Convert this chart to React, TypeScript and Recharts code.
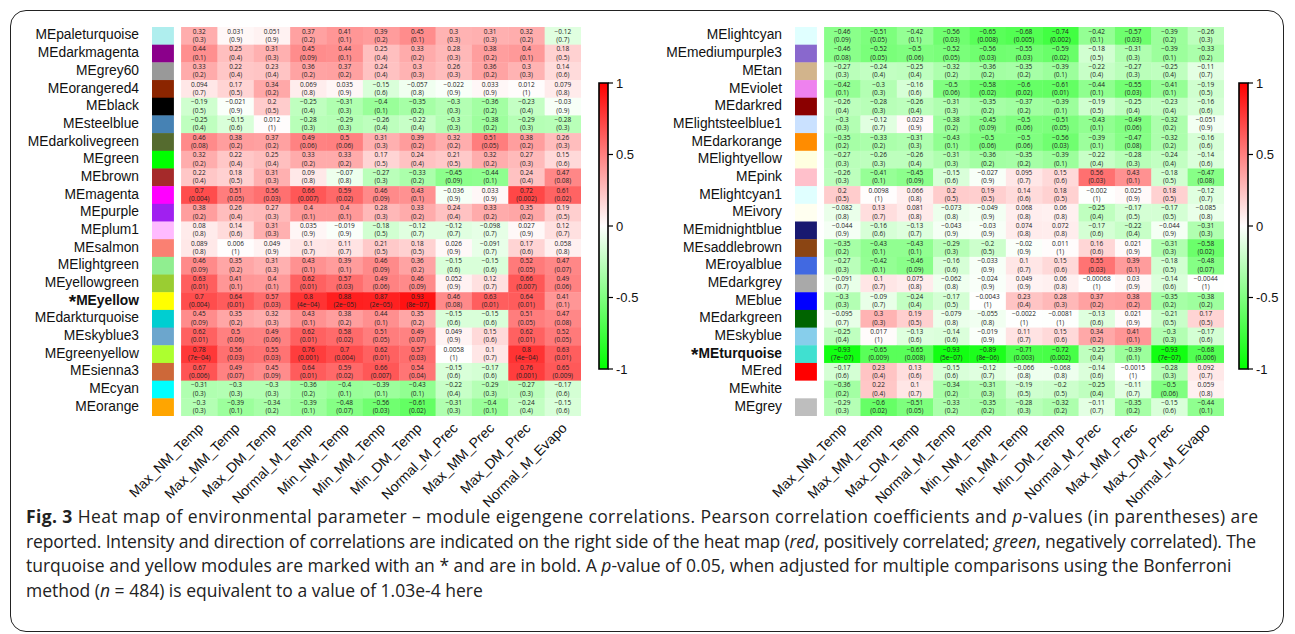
import React from 'react';
import { ScatterChart, Scatter, XAxis, YAxis, BarChart, Bar } from 'recharts';

const COLUMNS = ['Max_NM_Temp', 'Max_MM_Temp', 'Max_DM_Temp', 'Normal_M_Temp', 'Min_NM_Temp', 'Min_MM_Temp', 'Min_DM_Temp', 'Normal_M_Prec', 'Max_MM_Prec', 'Max_DM_Prec', 'Normal_M_Evapo'];

const LEFT_MODULES = ['MEpaleturquoise', 'MEdarkmagenta', 'MEgrey60', 'MEorangered4', 'MEblack', 'MEsteelblue', 'MEdarkolivegreen', 'MEgreen', 'MEbrown', 'MEmagenta', 'MEpurple', 'MEplum1', 'MEsalmon', 'MElightgreen', 'MEyellowgreen', 'MEyellow', 'MEdarkturquoise', 'MEskyblue3', 'MEgreenyellow', 'MEsienna3', 'MEcyan', 'MEorange'];
const LEFT_SWATCHES = ['#AFEEEE', '#8B008B', '#999999', '#8B2500', '#000000', '#4682B4', '#556B2F', '#00FF00', '#A52A2A', '#FF00FF', '#A020F0', '#FFBBFF', '#FA8072', '#90EE90', '#9ACD32', '#FFFF00', '#00CED1', '#6CA6CD', '#ADFF2F', '#CD6839', '#00FFFF', '#FFA500'];
const LEFT_R = [
  [0.32, 0.031, 0.051, 0.37, 0.41, 0.39, 0.45, 0.3, 0.31, 0.32, -0.12],
  [0.44, 0.25, 0.31, 0.45, 0.44, 0.25, 0.33, 0.28, 0.38, 0.4, 0.18],
  [0.33, 0.22, 0.23, 0.36, 0.37, 0.24, 0.3, 0.26, 0.36, 0.3, 0.14],
  [0.094, 0.17, 0.34, 0.069, 0.035, -0.15, -0.057, -0.022, 0.033, 0.012, 0.079],
  [-0.19, -0.021, 0.2, -0.25, -0.31, -0.4, -0.35, -0.3, -0.36, -0.23, -0.03],
  [-0.25, -0.15, 0.012, -0.28, -0.29, -0.26, -0.22, -0.3, -0.38, -0.29, -0.28],
  [0.46, 0.38, 0.37, 0.49, 0.5, 0.31, 0.39, 0.32, 0.51, 0.38, 0.26],
  [0.32, 0.22, 0.25, 0.33, 0.33, 0.17, 0.24, 0.21, 0.32, 0.27, 0.15],
  [0.22, 0.18, 0.31, 0.09, -0.07, -0.27, -0.33, -0.45, -0.44, 0.24, 0.47],
  [0.7, 0.51, 0.56, 0.66, 0.59, 0.46, 0.43, -0.036, 0.033, 0.72, 0.61],
  [0.38, 0.26, 0.27, 0.4, 0.4, 0.28, 0.33, 0.24, 0.33, 0.35, 0.19],
  [0.08, 0.14, 0.31, 0.035, -0.019, -0.18, -0.12, -0.12, -0.098, 0.027, 0.12],
  [0.089, 0.006, 0.049, 0.1, 0.11, 0.21, 0.18, 0.026, -0.091, 0.17, 0.058],
  [0.46, 0.35, 0.31, 0.43, 0.39, 0.46, 0.36, -0.15, -0.15, 0.52, 0.47],
  [0.63, 0.41, 0.4, 0.62, 0.57, 0.49, 0.46, 0.052, 0.12, 0.66, 0.49],
  [0.7, 0.64, 0.57, 0.8, 0.88, 0.87, 0.93, 0.46, 0.63, 0.64, 0.41],
  [0.45, 0.35, 0.32, 0.43, 0.38, 0.44, 0.35, -0.15, -0.15, 0.51, 0.47],
  [0.62, 0.5, 0.49, 0.62, 0.58, 0.51, 0.49, 0.049, 0.15, 0.62, 0.52],
  [0.78, 0.56, 0.55, 0.76, 0.7, 0.62, 0.57, 0.0058, 0.1, 0.8, 0.63],
  [0.67, 0.49, 0.45, 0.64, 0.59, 0.66, 0.54, -0.15, -0.17, 0.76, 0.65],
  [-0.31, -0.3, -0.3, -0.36, -0.4, -0.39, -0.43, -0.22, -0.29, -0.27, -0.17],
  [-0.3, -0.39, -0.34, -0.39, -0.48, -0.56, -0.61, -0.31, -0.4, -0.24, -0.15],
];
const LEFT_P = [
  ['0.3', '0.9', '0.9', '0.2', '0.1', '0.2', '0.1', '0.3', '0.3', '0.2', '0.7'],
  ['0.1', '0.4', '0.3', '0.09', '0.1', '0.4', '0.2', '0.3', '0.2', '0.1', '0.5'],
  ['0.2', '0.4', '0.4', '0.2', '0.2', '0.4', '0.3', '0.3', '0.2', '0.3', '0.6'],
  ['0.7', '0.5', '0.2', '0.8', '0.9', '0.6', '0.8', '0.9', '0.9', '1', '0.8'],
  ['0.5', '0.9', '0.5', '0.4', '0.3', '0.1', '0.2', '0.3', '0.2', '0.4', '0.9'],
  ['0.4', '0.6', '1', '0.3', '0.3', '0.4', '0.4', '0.3', '0.2', '0.3', '0.3'],
  ['0.08', '0.2', '0.2', '0.06', '0.06', '0.3', '0.2', '0.2', '0.05', '0.2', '0.3'],
  ['0.2', '0.4', '0.4', '0.2', '0.2', '0.5', '0.4', '0.5', '0.2', '0.3', '0.6'],
  ['0.4', '0.5', '0.3', '0.8', '0.8', '0.3', '0.2', '0.09', '0.1', '0.4', '0.08'],
  ['0.004', '0.05', '0.03', '0.007', '0.02', '0.09', '0.1', '0.9', '0.9', '0.002', '0.02'],
  ['0.2', '0.4', '0.3', '0.1', '0.1', '0.3', '0.2', '0.4', '0.2', '0.2', '0.5'],
  ['0.8', '0.6', '0.3', '0.9', '0.9', '0.5', '0.7', '0.7', '0.7', '0.9', '0.7'],
  ['0.8', '1', '0.9', '0.7', '0.7', '0.5', '0.5', '0.9', '0.7', '0.6', '0.8'],
  ['0.09', '0.2', '0.3', '0.1', '0.1', '0.09', '0.2', '0.6', '0.6', '0.05', '0.07'],
  ['0.01', '0.1', '0.1', '0.01', '0.03', '0.06', '0.09', '0.9', '0.7', '0.007', '0.06'],
  ['0.004', '0.01', '0.03', '4e-04', '2e-05', '2e-05', '8e-07', '0.08', '0.01', '0.01', '0.1'],
  ['0.09', '0.2', '0.3', '0.1', '0.2', '0.1', '0.2', '0.6', '0.6', '0.05', '0.08'],
  ['0.01', '0.06', '0.06', '0.01', '0.02', '0.05', '0.07', '0.9', '0.6', '0.01', '0.05'],
  ['7e-04', '0.03', '0.03', '0.001', '0.004', '0.01', '0.03', '1', '0.7', '4e-04', '0.01'],
  ['0.006', '0.07', '0.09', '0.01', '0.02', '0.007', '0.04', '0.6', '0.6', '0.001', '0.009'],
  ['0.3', '0.3', '0.3', '0.2', '0.1', '0.1', '0.1', '0.4', '0.3', '0.3', '0.6'],
  ['0.3', '0.1', '0.2', '0.1', '0.07', '0.03', '0.02', '0.3', '0.1', '0.4', '0.6'],
];

const RIGHT_MODULES = ['MElightcyan', 'MEmediumpurple3', 'MEtan', 'MEviolet', 'MEdarkred', 'MElightsteelblue1', 'MEdarkorange', 'MElightyellow', 'MEpink', 'MElightcyan1', 'MEivory', 'MEmidnightblue', 'MEsaddlebrown', 'MEroyalblue', 'MEdarkgrey', 'MEblue', 'MEdarkgreen', 'MEskyblue', 'MEturquoise', 'MEred', 'MEwhite', 'MEgrey'];
const RIGHT_SWATCHES = ['#E0FFFF', '#8968CD', '#D2B48C', '#EE82EE', '#8B0000', '#CAE1FF', '#FF8C00', '#FFFFE0', '#FFC0CB', '#E0FFFF', '#FFFFF0', '#191970', '#8B4513', '#4169E1', '#A9A9A9', '#0000FF', '#006400', '#87CEEB', '#40E0D0', '#FF0000', '#FFFFFF', '#BEBEBE'];
const RIGHT_R = [
  [-0.46, -0.51, -0.42, -0.56, -0.65, -0.68, -0.74, -0.42, -0.57, -0.39, -0.26],
  [-0.46, -0.52, -0.5, -0.52, -0.56, -0.55, -0.59, -0.18, -0.31, -0.39, -0.33],
  [-0.27, -0.24, -0.25, -0.32, -0.36, -0.35, -0.39, -0.22, -0.27, -0.25, -0.11],
  [-0.42, -0.3, -0.16, -0.5, -0.58, -0.6, -0.61, -0.44, -0.55, -0.41, -0.19],
  [-0.26, -0.28, -0.26, -0.31, -0.35, -0.37, -0.39, -0.19, -0.25, -0.23, -0.16],
  [-0.3, -0.12, 0.023, -0.38, -0.45, -0.5, -0.51, -0.43, -0.49, -0.32, -0.051],
  [-0.35, -0.33, -0.31, -0.43, -0.5, -0.5, -0.56, -0.39, -0.47, -0.32, -0.16],
  [-0.27, -0.26, -0.26, -0.31, -0.36, -0.35, -0.39, -0.22, -0.28, -0.24, -0.14],
  [-0.26, -0.41, -0.45, -0.15, -0.027, 0.095, 0.15, 0.56, 0.43, -0.18, -0.47],
  [0.2, 0.0098, 0.066, 0.2, 0.19, 0.14, 0.18, -0.002, 0.025, 0.18, -0.12],
  [-0.082, 0.13, 0.081, -0.073, -0.049, 0.068, 0.06, -0.25, -0.17, -0.17, -0.085],
  [-0.044, -0.16, -0.13, -0.043, -0.03, 0.074, 0.072, -0.17, -0.22, -0.044, -0.31],
  [-0.35, -0.43, -0.43, -0.29, -0.2, -0.02, 0.011, 0.16, 0.021, -0.31, -0.58],
  [-0.27, -0.42, -0.46, -0.16, -0.033, 0.1, 0.15, 0.55, 0.39, -0.18, -0.48],
  [-0.091, 0.1, 0.075, -0.062, -0.024, 0.049, 0.06, -0.00068, 0.03, -0.14, -0.0044],
  [-0.3, -0.09, -0.24, -0.17, -0.0043, 0.23, 0.28, 0.37, 0.38, -0.35, -0.38],
  [-0.095, 0.3, 0.19, -0.079, -0.055, -0.0022, -0.0081, -0.13, 0.021, -0.21, 0.17],
  [-0.25, 0.017, -0.13, -0.14, -0.019, 0.11, 0.15, 0.34, 0.41, -0.3, -0.17],
  [-0.93, -0.65, -0.65, -0.93, -0.89, -0.71, -0.72, -0.25, -0.39, -0.93, -0.68],
  [-0.17, 0.23, 0.13, -0.15, -0.12, -0.066, -0.068, -0.14, -0.0015, -0.28, 0.092],
  [-0.36, 0.22, 0.1, -0.34, -0.31, -0.19, -0.2, -0.25, -0.11, -0.5, 0.059],
  [-0.29, -0.6, -0.51, -0.33, -0.35, -0.28, -0.32, -0.11, -0.35, -0.15, -0.44],
];
const RIGHT_P = [
  ['0.09', '0.05', '0.1', '0.03', '0.008', '0.005', '0.002', '0.1', '0.03', '0.2', '0.3'],
  ['0.08', '0.05', '0.06', '0.05', '0.03', '0.03', '0.02', '0.5', '0.3', '0.1', '0.2'],
  ['0.3', '0.4', '0.4', '0.2', '0.2', '0.2', '0.1', '0.4', '0.3', '0.4', '0.7'],
  ['0.1', '0.3', '0.6', '0.06', '0.02', '0.02', '0.01', '0.1', '0.03', '0.1', '0.5'],
  ['0.4', '0.3', '0.4', '0.3', '0.2', '0.2', '0.1', '0.5', '0.4', '0.4', '0.6'],
  ['0.3', '0.7', '0.9', '0.2', '0.09', '0.06', '0.05', '0.1', '0.06', '0.2', '0.9'],
  ['0.2', '0.2', '0.3', '0.1', '0.06', '0.06', '0.03', '0.1', '0.08', '0.2', '0.6'],
  ['0.3', '0.3', '0.4', '0.3', '0.2', '0.2', '0.1', '0.4', '0.3', '0.4', '0.6'],
  ['0.3', '0.1', '0.09', '0.6', '0.9', '0.7', '0.6', '0.03', '0.1', '0.5', '0.08'],
  ['0.5', '1', '0.8', '0.5', '0.5', '0.6', '0.5', '1', '0.9', '0.5', '0.7'],
  ['0.8', '0.7', '0.8', '0.8', '0.9', '0.8', '0.8', '0.4', '0.5', '0.5', '0.8'],
  ['0.9', '0.6', '0.7', '0.9', '0.9', '0.8', '0.8', '0.6', '0.4', '0.9', '0.3'],
  ['0.2', '0.1', '0.1', '0.3', '0.5', '0.9', '1', '0.6', '0.9', '0.3', '0.02'],
  ['0.3', '0.1', '0.09', '0.6', '0.9', '0.7', '0.6', '0.03', '0.1', '0.5', '0.07'],
  ['0.7', '0.7', '0.8', '0.8', '0.9', '0.9', '0.8', '1', '0.9', '0.6', '1'],
  ['0.3', '0.7', '0.4', '0.5', '1', '0.4', '0.3', '0.2', '0.2', '0.2', '0.2'],
  ['0.7', '0.3', '0.5', '0.8', '0.8', '1', '1', '0.6', '0.9', '0.5', '0.5'],
  ['0.4', '1', '0.6', '0.6', '0.9', '0.7', '0.6', '0.2', '0.1', '0.3', '0.6'],
  ['7e-07', '0.009', '0.008', '5e-07', '8e-06', '0.003', '0.002', '0.4', '0.1', '7e-07', '0.006'],
  ['0.6', '0.4', '0.6', '0.6', '0.7', '0.8', '0.8', '0.6', '1', '0.3', '0.7'],
  ['0.2', '0.4', '0.7', '0.2', '0.3', '0.5', '0.5', '0.4', '0.7', '0.06', '0.8'],
  ['0.3', '0.02', '0.05', '0.2', '0.2', '0.3', '0.2', '0.7', '0.2', '0.6', '0.1'],
];

const HIGHLIGHTED = ['MEyellow', 'MEturquoise'];
const COLORBAR_TICKS = [-1, -0.5, 0, 0.5, 1];

// layout
const CHART_W = 640;
const CHART_H = 520;
const MARGIN = { top: 27, right: 59, bottom: 14, left: 12 };
const Y_AXIS_W = 140;
const X_AXIS_H = 90;
const X_DOMAIN: [number, number] = [-0.8, 11];
const PLOT_W = CHART_W - MARGIN.left - MARGIN.right - Y_AXIS_W;
const PLOT_H = CHART_H - MARGIN.top - MARGIN.bottom - X_AXIS_H;
const CELL_W = PLOT_W / (X_DOMAIN[1] - X_DOMAIN[0]);
const CELL_H = PLOT_H / 22;
const SWATCH_W = 22;
const LABEL_FONT = '"Liberation Sans", Arial, sans-serif';
const CELL_FONT = '"Open Sans", "DejaVu Sans", sans-serif';
const CAPTION_FONT = '"Open Sans", sans-serif';

const cellColor = (v: number) => {
  if (v >= 0) {
    const c = Math.round(255 * (1 - v));
    return `rgb(255,${c},${c})`;
  }
  const c = Math.round(255 * (1 + v));
  return `rgb(${c},255,${c})`;
};
const fmt = (s: string | number) => String(s).replace('-', '\u2212');

const HeatCell = (props: any) => {
  const { cx, cy, payload } = props;
  if (cx == null || cy == null) return null;
  return (
    <g>
      <rect x={cx - CELL_W / 2} y={cy - CELL_H / 2} width={CELL_W + 0.4} height={CELL_H + 0.4} fill={cellColor(payload.v)} />
      <text x={cx} y={cy - 4} textAnchor="middle" dominantBaseline="middle" fontSize={6.5} fontFamily={CELL_FONT} fill="#222">{fmt(payload.v)}</text>
      <text x={cx} y={cy + 4.3} textAnchor="middle" dominantBaseline="middle" fontSize={6.5} fontFamily={CELL_FONT} fill="#222">({fmt(payload.p)})</text>
    </g>
  );
};

const SwatchCell = (props: any) => {
  const { cx, cy, payload } = props;
  if (cx == null || cy == null) return null;
  return <rect x={cx - SWATCH_W / 2} y={cy - CELL_H / 2} width={SWATCH_W} height={CELL_H + 0.4} fill={payload.color} />;
};

const makeYTick = (modules: string[]) => (props: any) => {
  const { x, y, payload } = props;
  const name = modules[Math.floor(payload.value)];
  const bold = HIGHLIGHTED.includes(name);
  return (
    <text x={x} y={y} textAnchor="end" dominantBaseline="middle" fontFamily={LABEL_FONT} fontSize={13.8} fill="#111">
      {bold ? <tspan fontWeight="bold" fontSize={19} dy={2}>*</tspan> : null}
      {bold ? <tspan fontWeight="bold" dy={-2}>{name}</tspan> : name}
    </text>
  );
};

const XTick = (props: any) => {
  const { x, y, payload } = props;
  const label = COLUMNS[Math.floor(payload.value)];
  const ax = x + 5;
  const ay = y + 13;
  return (
    <text x={ax} y={ay} textAnchor="end" fontFamily={LABEL_FONT} fontSize={14} fill="#111" transform={`rotate(-45, ${ax}, ${ay})`}>
      {label}
    </text>
  );
};

const Panel = ({ modules, swatches, r, p, left }: { modules: string[]; swatches: string[]; r: number[][]; p: string[][]; left: number }) => {
  const cells = r.flatMap((row, ri) => row.map((v, ci) => ({ x: ci + 0.5, y: ri + 0.5, v, p: p[ri][ci] })));
  const swatchData = modules.map((m, ri) => ({ x: -0.5, y: ri + 0.5, color: swatches[ri] }));
  const xTicks = COLUMNS.map((_, i) => i + 0.5);
  const yTicks = modules.map((_, i) => i + 0.5);
  return (
    <div style={{ position: 'absolute', left, top: 0 }}>
      <ScatterChart width={CHART_W} height={CHART_H} margin={MARGIN}>
        <XAxis type="number" dataKey="x" domain={X_DOMAIN} allowDataOverflow ticks={xTicks} interval={0} height={X_AXIS_H} axisLine={false} tickLine={false} tickSize={0} tickMargin={0} tick={<XTick />} />
        <YAxis type="number" dataKey="y" domain={[0, 22]} reversed allowDataOverflow ticks={yTicks} interval={0} width={Y_AXIS_W} axisLine={false} tickLine={false} tickSize={0} tickMargin={13} tick={makeYTick(modules)} />
        <Scatter data={swatchData} shape={<SwatchCell />} isAnimationActive={false} />
        <Scatter data={cells} shape={<HeatCell />} isAnimationActive={false} />
      </ScatterChart>
    </div>
  );
};

const ColorBar = ({ left, id }: { left: number; id: string }) => (
  <div style={{ position: 'absolute', left, top: 70 }}>
    <BarChart width={70} height={320} data={[{ name: 'scale', range: [-1, 1] }]} margin={{ top: 13, right: 9, bottom: 21, left: 9 }} barCategoryGap={0}>
      <defs>
        <linearGradient id={id} x1="0" y1="0" x2="0" y2="1">
          <stop offset="0%" stopColor="#FF0000" />
          <stop offset="50%" stopColor="#FFFFFF" />
          <stop offset="100%" stopColor="#00FF00" />
        </linearGradient>
      </defs>
      <XAxis dataKey="name" hide />
      <YAxis orientation="right" type="number" domain={[-1, 1]} ticks={COLORBAR_TICKS} interval={0} width={43} axisLine={false} tickSize={5} tickMargin={3} tickLine={{ stroke: '#000', strokeWidth: 1.2 }} tick={{ fontSize: 13, fontFamily: LABEL_FONT, fill: '#111', textAnchor: 'start' }} />
      <Bar dataKey="range" fill={`url(#${id})`} stroke="#000" strokeWidth={1.6} isAnimationActive={false} />
    </BarChart>
  </div>
);

const Caption = () => (
  <svg width={1295} height={130} style={{ position: 'absolute', left: 0, top: 495 }} fontFamily={CAPTION_FONT} fontSize={17.5} fill="#222">
    <text x={26} y={28} textLength={1232} lengthAdjust="spacing">
      <tspan fontWeight="bold">Fig. 3</tspan> Heat map of environmental parameter – module eigengene correlations. Pearson correlation coefficients and <tspan fontStyle="italic">p</tspan>-values (in parentheses) are
    </text>
    <text x={26} y={52.5} textLength={1230} lengthAdjust="spacing">
      reported. Intensity and direction of correlations are indicated on the right side of the heat map (<tspan fontStyle="italic">red</tspan>, positively correlated; <tspan fontStyle="italic">green</tspan>, negatively correlated). The
    </text>
    <text x={26} y={77}>
      turquoise and yellow modules are marked with an * and are in bold. A <tspan fontStyle="italic">p</tspan>-value of 0.05, when adjusted for multiple comparisons using the Bonferroni
    </text>
    <text x={26} y={101.5}>
      method (<tspan fontStyle="italic">n</tspan> = 484) is equivalent to a value of 1.03e-4 here
    </text>
  </svg>
);

export default function App() {
  return (
    <div style={{ position: 'absolute', left: 0, top: 0, width: 1295, height: 634, background: '#fff', overflow: 'hidden' }}>
      <div style={{ position: 'absolute', left: 10, top: 10, width: 1272, height: 620, border: '1.5px solid #222', borderRadius: 16 }} />
      <Panel modules={LEFT_MODULES} swatches={LEFT_SWATCHES} r={LEFT_R} p={LEFT_P} left={0} />
      <Panel modules={RIGHT_MODULES} swatches={RIGHT_SWATCHES} r={RIGHT_R} p={RIGHT_P} left={643} />
      <ColorBar left={590} id="cbLeft" />
      <ColorBar left={1230} id="cbRight" />
      <Caption />
    </div>
  );
}
